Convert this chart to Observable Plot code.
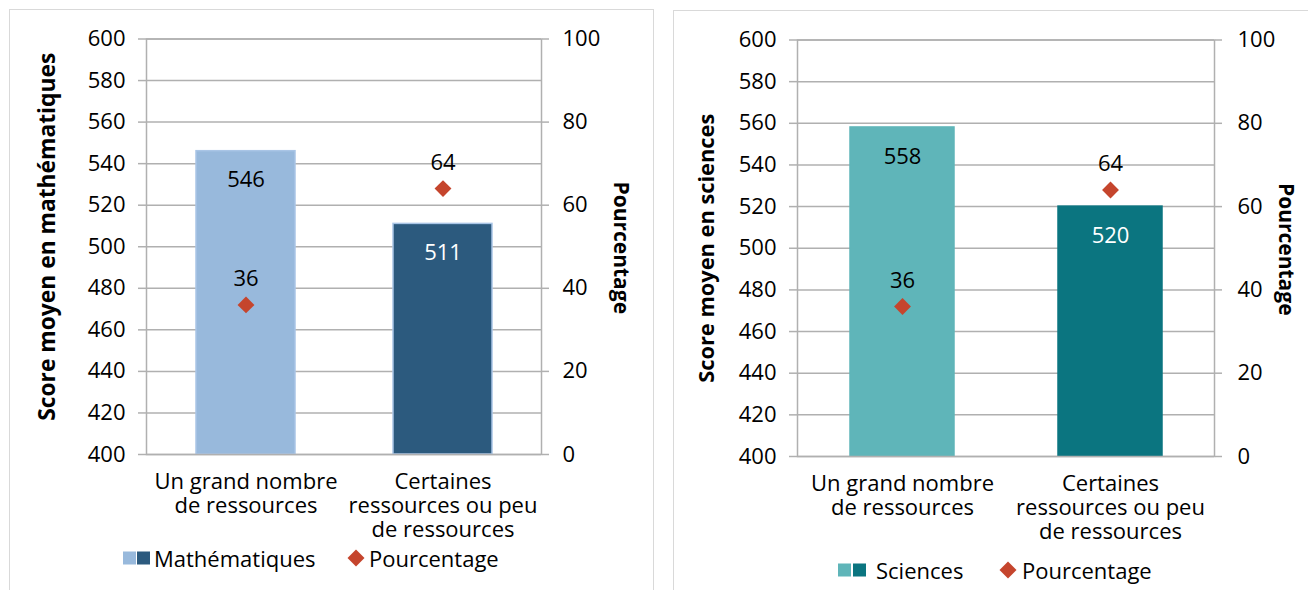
<!DOCTYPE html>
<html><head><meta charset="utf-8">
<script src="https://cdn.jsdelivr.net/npm/d3@7"></script>
<script src="https://cdn.jsdelivr.net/npm/@observablehq/plot@0.6"></script>
<style>
body{margin:0;background:#fff;font-family:"Open Sans",sans-serif;}
.panel{position:absolute;border:1px solid #d9d9d9;box-sizing:border-box;background:#fff;}
.panel svg{position:absolute;left:0;top:0;}
.lg{position:absolute;font-size:22px;color:#000;white-space:nowrap;line-height:1;transform:translateY(-50%);}
.sw{position:absolute;width:13px;height:13px;transform:translateY(-50%);}
</style></head><body>
<div id="p1" class="panel" style="left:9px;top:9px;width:645px;height:610px"></div>
<div id="p2" class="panel" style="left:673px;top:10px;width:640px;height:610px"></div>
<div id="legends"></div>
<script>
const categories = ["Un grand nombre\nde ressources", "Certaines\nressources ou peu\nde ressources"];
const mathScores = [546, 511];
const sciScores = [558, 520];
const mathPct = [36, 64];
const sciPct = [36, 64];
const scoreTicks = [400, 420, 440, 460, 480, 500, 520, 540, 560, 580, 600];
const pctTicks = [0, 20, 40, 60, 80, 100];
const mathColors = ["#98b9dc", "#2c5a7e"];
const sciColors = ["#5fb5b9", "#0b7580"];
const labelColors = ["#000000", "#ffffff"];
const pctColor = "#c5452d";
const gridColor = "#b0b0b0";

function pctToScore(p) { return 400 + 2 * p; }

function chart(o) {
  const rows = categories.map((c, i) => ({cat: c, score: o.scores[i], pct: o.pct[i], color: o.colors[i], lab: labelColors[i]}));
  return Plot.plot({
    width: o.width, height: o.height,
    marginLeft: o.mL, marginRight: o.mR, marginTop: o.mT, marginBottom: o.mB,
    x: {type: "band", domain: categories, paddingInner: 0.5, paddingOuter: 0.25},
    y: {domain: [400, 600]},
    color: {type: "identity"},
    style: {fontFamily: "Open Sans", fontSize: "22px", background: "transparent", overflow: "visible", color: "#000"},
    marks: [
      Plot.ruleY(scoreTicks, {stroke: gridColor, strokeWidth: 1.5}),
      Plot.barY(rows, {x: "cat", y1: 400, y2: "score", fill: "color", stroke: o.barStroke || "color", strokeWidth: 1.5}),
      Plot.frame({stroke: gridColor, strokeWidth: 1.5}),
      Plot.axisY(scoreTicks, {anchor: "left", tickSize: 8, tickPadding: 13, stroke: gridColor, strokeWidth: 1.5, fill: "#000", fontSize: 22, label: null}),
      Plot.axisY(pctTicks.map(pctToScore), {anchor: "right", tickSize: 7, tickPadding: o.rPad, tickFormat: d => String((d - 400) / 2), stroke: gridColor, strokeWidth: 1.5, fill: "#000", fontSize: 22, label: null}),
      Plot.axisX({anchor: "bottom", tickSize: 0, tickPadding: 18, lineHeight: 1.08, fill: "#000", fontSize: 22, label: null}),
      Plot.text(rows, {x: "cat", y: "score", text: d => String(d.score), dy: 29, fill: "lab", fontSize: 22}),
      Plot.dot(rows, {x: "cat", y: d => pctToScore(d.pct), symbol: "diamond2", r: 7.6, fill: pctColor}),
      Plot.text(rows, {x: "cat", y: d => pctToScore(d.pct), text: d => String(d.pct), dy: -26, fill: "#000", fontSize: 22}),
      Plot.text([o.yTitle], {frameAnchor: "left", rotate: -90, dx: o.titleDx, dy: o.titleDy, textAnchor: "middle", fontWeight: "bold", fontSize: o.titleSize, fill: "#000"}),
      Plot.text(["Pourcentage"], {frameAnchor: "right", rotate: 90, dx: o.pctDx, dy: 1, textAnchor: "middle", fontWeight: "bold", fontSize: 21, fill: "#000"})
    ]
  });
}

document.getElementById("p1").appendChild(chart({
  scores: mathScores, pct: mathPct, colors: mathColors, barStroke: "#a9c5e6",
  yTitle: "Score moyen en mathématiques", titleSize: 22.8,
  width: 643, height: 540, mL: 136, mR: 112, mT: 28.5, mB: 96,
  titleDx: -99, titleDy: -10, pctDx: 79, rPad: 14
}));
document.getElementById("p2").appendChild(chart({
  scores: sciScores, pct: sciPct, colors: sciColors,
  yTitle: "Score moyen en sciences", titleSize: 21.8,
  width: 638, height: 540, mL: 123, mR: 98, mT: 28.5, mB: 95,
  titleDx: -90, titleDy: 0, pctDx: 71, rPad: 16
}));

function diamond(cx, cy) {
  return `<svg style="position:absolute;left:${cx - 9}px;top:${cy - 9}px" width="18" height="18"><path d="M9 0.5L17.5 9L9 17.5L0.5 9Z" fill="${pctColor}"/></svg>`;
}
const L = document.getElementById("legends");
L.innerHTML =
  `<div class="sw" style="left:123px;top:558px;background:${mathColors[0]}"></div>` +
  `<div class="sw" style="left:137px;top:558px;background:${mathColors[1]}"></div>` +
  `<div class="lg" style="left:154px;top:558px">Mathématiques</div>` +
  diamond(355.5, 558) +
  `<div class="lg" style="left:369px;top:558px">Pourcentage</div>` +
  `<div class="sw" style="left:838px;top:570px;background:${sciColors[0]}"></div>` +
  `<div class="sw" style="left:853px;top:570px;background:${sciColors[1]}"></div>` +
  `<div class="lg" style="left:876px;top:570px">Sciences</div>` +
  diamond(1008, 570) +
  `<div class="lg" style="left:1022px;top:570px">Pourcentage</div>`;
</script>
</body></html>
